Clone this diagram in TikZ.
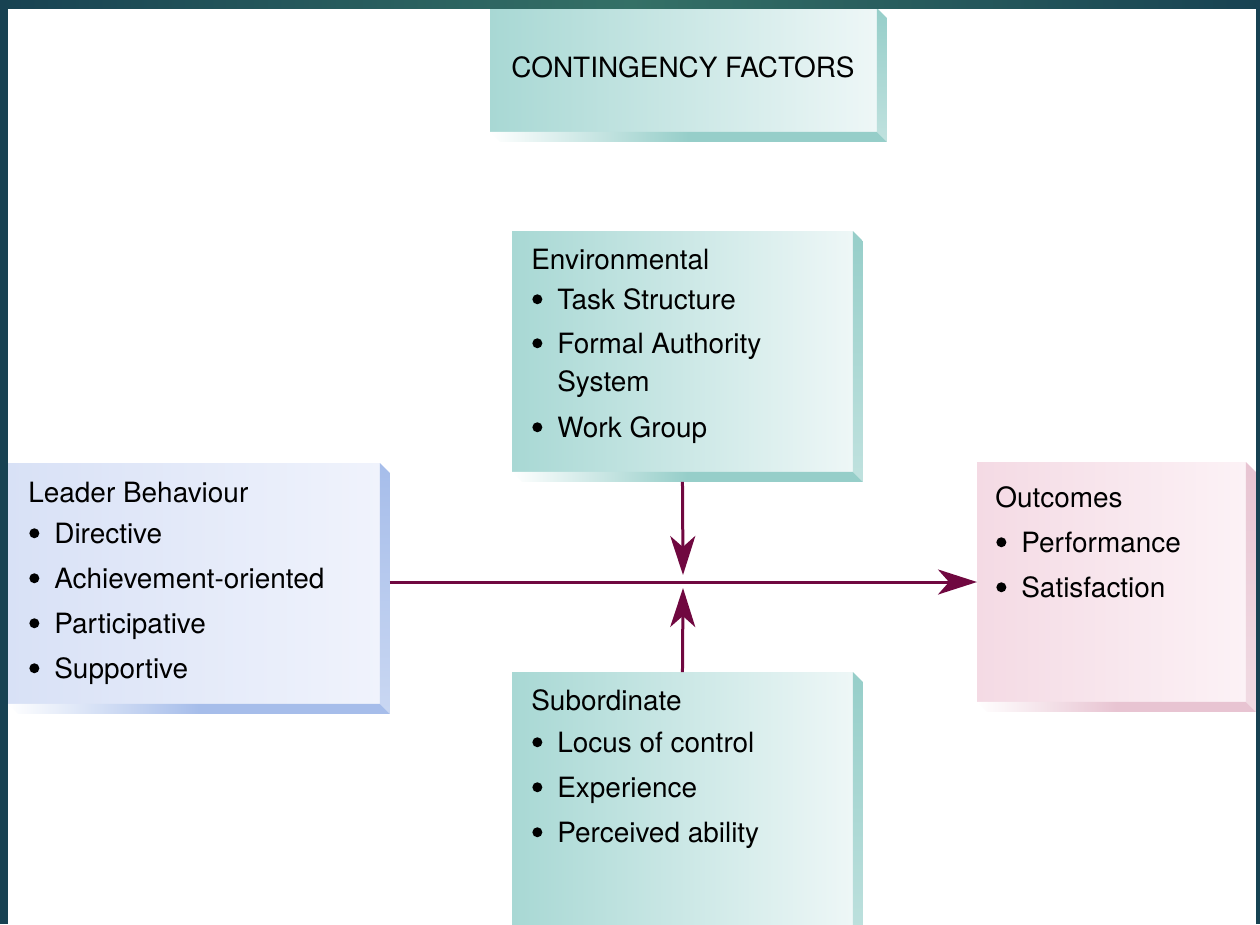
\documentclass[tikz,border=0pt]{standalone}
\usepackage{fontspec}
\setmainfont{TeX Gyre Heros}
\usepackage{tikz}
\usetikzlibrary{arrows.meta}

\definecolor{frameDark}{RGB}{24,66,82}
\definecolor{frameLight}{RGB}{52,112,102}
\definecolor{tealL}{RGB}{168,216,212}
\definecolor{tealR}{RGB}{238,247,247}
\definecolor{tealBev}{RGB}{150,206,201}
\definecolor{blueL}{RGB}{216,225,246}
\definecolor{blueR}{RGB}{240,243,252}
\definecolor{blueBev}{RGB}{166,189,234}
\definecolor{pinkL}{RGB}{244,218,228}
\definecolor{pinkR}{RGB}{252,242,246}
\definecolor{pinkBev}{RGB}{232,196,210}
\definecolor{maroon}{RGB}{112,8,64}

\newcommand{\itm}{\makebox[0.52cm][l]{\hspace*{0.02cm}\raisebox{0.095cm}{\tikz\fill (0,0) circle (0.1cm);}}}
\newcommand{\bevel}[2]{%
  \shade[top color=#2, bottom color=#2!60!white] (#1.north east) -- ++(10,10)
    -- ([shift={(10,10)}]#1.south east) -- (#1.south east) -- cycle;
  \shade[left color=white, right color=#2, middle color=#2] (#1.south west)
    -- (#1.south east) -- ++(10,10) -- ([shift={(10,10)}]#1.south west) -- cycle;}

\begin{document}
\begin{tikzpicture}[x=0.02cm, y=-0.02cm,
  font=\fontsize{15.9}{19}\selectfont,
  face/.style={anchor=north west, inner sep=0pt, outer sep=0pt},
  tealface/.style={face, left color=tealL, right color=tealR},
  blueface/.style={face, left color=blueL, right color=blueR},
  pinkface/.style={face, left color=pinkL, right color=pinkR},
  line/.style={anchor=base west, inner sep=0pt},
  flow/.style={draw=maroon, line width=0.06cm,
    -{Stealth[length=0.78cm, width=0.5cm, inset=0.22cm]}}]

\clip (0,0) rectangle (1260,924);
\fill[white] (0,0) rectangle (1260,924);

\node[tealface, minimum width=7.74cm, minimum height=2.48cm] (cf) at (490,8) {};
\node[tealface, minimum width=6.82cm, minimum height=4.82cm] (env) at (512,231) {};
\node[tealface, minimum width=6.82cm, minimum height=5.4cm] (sub) at (512,672) {};
\node[blueface, minimum width=7.44cm, minimum height=4.82cm] (lead) at (8,463) {};
\node[pinkface, minimum width=5.38cm, minimum height=4.8cm] (outc) at (977,462) {};

\bevel{cf}{tealBev}
\bevel{env}{tealBev}
\bevel{sub}{tealBev}
\bevel{lead}{blueBev}
\bevel{outc}{pinkBev}

\node[anchor=base, inner sep=0pt] (cf-t) at (683,77) {CONTINGENCY FACTORS};

\foreach \dy/\txt [count=\i] in {38/Environmental, 78/\itm Task Structure,
    122/\itm Formal Authority, 160/\hspace*{0.52cm}System, 206/\itm Work Group}
  \node[line] (env-\i) at ([shift={(19,\dy)}]env.north west) {\txt};

\foreach \dy/\txt [count=\i] in {38/Subordinate, 80/\itm Locus of control,
    125/\itm Experience, 170/\itm Perceived ability}
  \node[line] (sub-\i) at ([shift={(19,\dy)}]sub.north west) {\txt};

\foreach \dy/\txt [count=\i] in {39/Leader Behaviour, 80/\itm Directive,
    125/\itm Achievement-oriented, 170/\itm Participative, 215/\itm Supportive}
  \node[line] (lead-\i) at ([shift={(20,\dy)}]lead.north west) {\txt};

\foreach \dy/\txt [count=\i] in {45/Outcomes, 90/\itm Performance, 135/\itm Satisfaction}
  \node[line] (outc-\i) at ([shift={(18,\dy)}]outc.north west) {\txt};

\coordinate (hub) at (683,582);
\draw[flow] ([xshift=0.2cm]lead.east |- hub) -- (outc.west |- hub);
\draw[flow] ([yshift=-0.2cm]env.south) -- ([yshift=0.14cm]hub);
\draw[flow] (sub.north) -- ([yshift=-0.12cm]hub);

% frame
\fill[frameDark] (0,0) rectangle (8,924);
\fill[frameDark] (1256,0) rectangle (1260,924);
\shade[left color=frameDark, right color=frameDark, middle color=frameLight]
  (0,0) rectangle (1260,8);

\end{tikzpicture}
\end{document}
